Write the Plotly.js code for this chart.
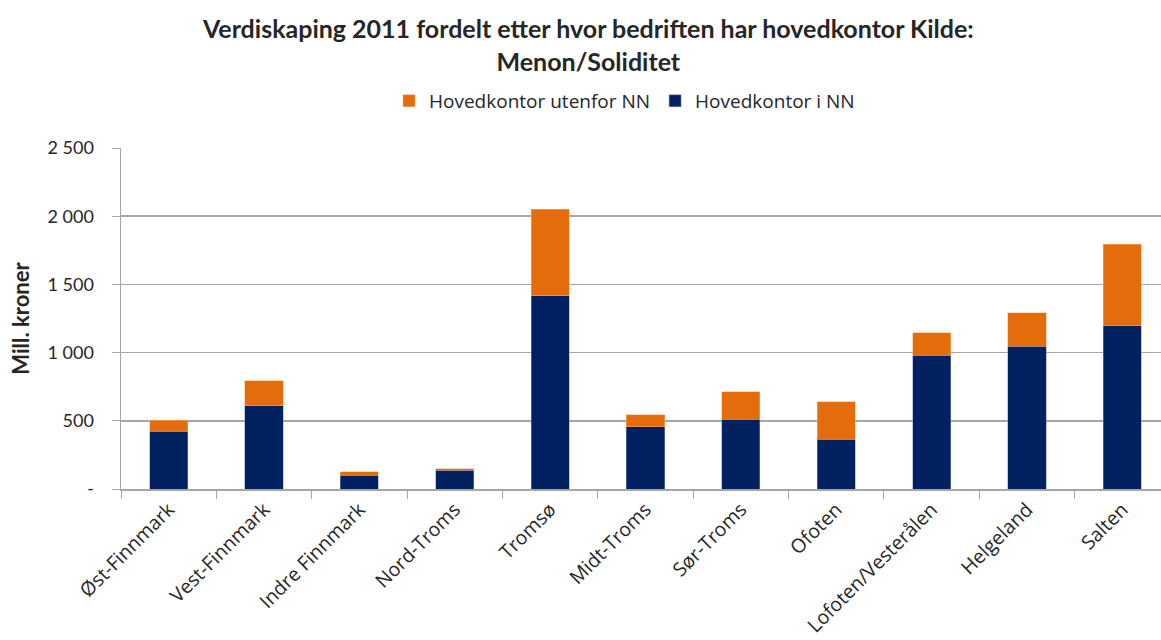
<!DOCTYPE html>
<html>
<head>
<meta charset="utf-8">
<script src="https://cdn.plot.ly/plotly-3.0.1.min.js"></script>
<style>
html,body{margin:0;padding:0;overflow:hidden;background:#fff;}
#chart{width:1172px;height:640px;}
</style>
</head>
<body>
<div id="chart"></div>
<script>
const categories = ["Øst-Finnmark","Vest-Finnmark","Indre Finnmark","Nord-Troms","Tromsø","Midt-Troms","Sør-Troms","Ofoten","Lofoten/Vesterålen","Helgeland","Salten"];
const hovedkontorINN = [424, 612, 100, 137, 1416, 456, 510, 365, 980, 1046, 1196];
const hovedkontorUtenforNN = [81, 182, 25, 10, 635, 88, 203, 275, 167, 248, 600];
const yTickVals = [0, 500, 1000, 1500, 2000, 2500];
const yTickText = ["-", "500", "1 000", "1 500", "2 000", "2 500"];

const traces = [
  {type:'bar', name:'Hovedkontor i NN', x:categories, y:hovedkontorINN,
   marker:{color:'#002060', line:{color:'#8096c0', width:0.5}}},
  {type:'bar', name:'Hovedkontor utenfor NN', x:categories, y:hovedkontorUtenforNN,
   marker:{color:'#E46C0A', line:{color:'#f5b27a', width:0.5}}}
];

const layout = {
  width:1172, height:640,
  margin:{l:121, r:2, t:148, b:151, pad:0},
  paper_bgcolor:'#fff', plot_bgcolor:'#fff',
  barmode:'stack', bargap:0.6,
  font:{family:'Lato, sans-serif', color:'#262626'},
  title:{text:'<b>Verdiskaping 2011 fordelt etter hvor bedriften har hovedkontor Kilde:<br>Menon/Soliditet</b>',
         font:{family:'Lato, sans-serif', size:25, color:'#262626'},
         x:0.502, xanchor:'center', yref:'container', y:1-38/640, yanchor:'middle'},
  showlegend:true,
  legend:{orientation:'h', traceorder:'reversed', x:0.48, xanchor:'center', y:1.138, yanchor:'middle',
          font:{family:'Open Sans, sans-serif', size:19, color:'#262626'}, itemwidth:30, tracegroupgap:0},
  xaxis:{type:'category', range:[-0.5,10.5], showgrid:false, showline:true, linecolor:'#a6a6a6', linewidth:1.5,
         ticks:'outside', ticklen:8, tickcolor:'#a6a6a6', tickson:'boundaries', tickangle:-45,
         tickfont:{family:'Open Sans, sans-serif', size:19.5, color:'#262626'}},
  yaxis:{range:[0,2500], tickvals:yTickVals, ticktext:yTickText, showgrid:true, gridcolor:'#a6a6a6', gridwidth:1.5,
         showline:true, linecolor:'#a6a6a6', linewidth:1.5, ticks:'outside', ticklen:8, tickcolor:'#a6a6a6',
         ticklabelstandoff:14, zeroline:false,
         tickfont:{family:'Lato, sans-serif', size:18, color:'#262626'},
         title:{text:'<b>Mill. kroner</b>', standoff:12, font:{family:'Lato, sans-serif', size:22, color:'#262626'}}}
};

Plotly.newPlot('chart', traces, layout, {displayModeBar:false, staticPlot:true});
</script>
</body>
</html>
